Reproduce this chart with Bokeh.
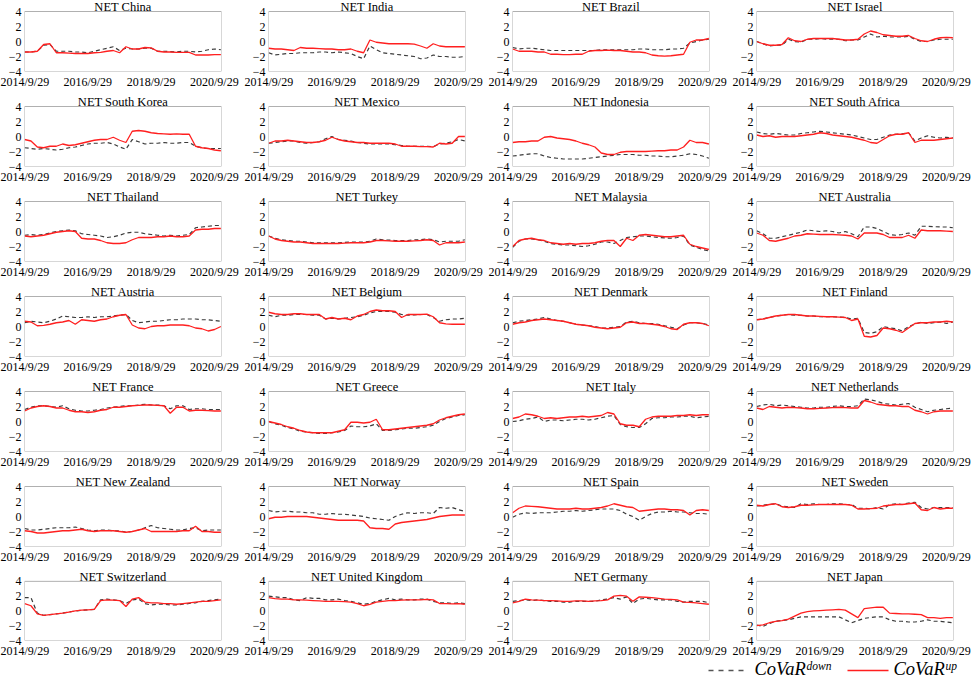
from bokeh.plotting import figure
from bokeh.layouts import gridplot, column
from bokeh.models import Range1d, FixedTicker, BoxAnnotation, Label
from bokeh.embed import file_html
from bokeh.resources import INLINE
from bokeh.core.properties import value

YEARS = [2014.75, 2014.95, 2015.15, 2015.35, 2015.55, 2015.75, 2015.95, 2016.15, 2016.35, 2016.55,
         2016.75, 2016.95, 2017.15, 2017.35, 2017.55, 2017.75, 2017.95, 2018.15, 2018.35, 2018.55,
         2018.75, 2018.95, 2019.15, 2019.35, 2019.55, 2019.75, 2019.95, 2020.15, 2020.35, 2020.55,
         2020.75, 2020.95]
TICK_YEARS = [2014.745, 2016.745, 2018.745, 2020.745]
TICK_LABELS = ["2014/9/29", "2016/9/29", "2018/9/29", "2020/9/29"]
Y_TICKS = [-4, -2, 0, 2, 4]

CHINA_UP = [-1.4,-1.4,-1.3,-0.4,-0.3,-1.5,-1.5,-1.55,-1.6,-1.6, -1.6,-1.5,-1.45,-1.3,-1.2,-1.5,-0.7,-1.0,-1.0,-0.8, -0.85,-1.3,-1.4,-1.4,-1.45,-1.45,-1.45,-1.8,-1.8,-1.8, -1.75,-1.75]
CHINA_DOWN = [-1.4,-1.4,-1.3,-0.5,-0.4,-1.3,-1.3,-1.3,-1.4,-1.4, -1.5,-1.3,-1.1,-0.9,-0.7,-1.2,-0.9,-1.0,-1.0,-0.9, -0.9,-1.3,-1.3,-1.35,-1.4,-1.3,-1.3,-1.4,-1.3,-1.1, -1.0,-1.1]
INDIA_UP = [-0.9,-1.0,-1.0,-1.1,-1.2,-0.8,-0.9,-0.9,-0.95,-1.0, -1.0,-1.1,-1.1,-1.0,-1.3,-1.5,0.2,-0.1,-0.2,-0.3, -0.3,-0.3,-0.3,-0.35,-0.6,-0.9,-0.3,-0.6,-0.7,-0.7, -0.7,-0.7]
INDIA_DOWN = [-1.5,-1.8,-1.7,-1.6,-1.6,-1.5,-1.5,-1.5,-1.4,-1.4, -1.5,-1.4,-1.5,-1.6,-2.0,-2.3,-0.6,-1.1,-1.5,-1.6, -1.7,-1.8,-1.9,-2.0,-2.3,-2.2,-1.8,-2.0,-2.0,-2.1, -2.1,-2.0]
BRAZIL_UP = [-1.0,-1.3,-1.3,-1.3,-1.4,-1.4,-1.7,-1.7,-1.75,-1.75, -1.7,-1.7,-1.3,-1.2,-1.2,-1.15,-1.2,-1.2,-1.3,-1.4, -1.4,-1.5,-1.8,-1.9,-1.95,-1.9,-1.8,-1.7,-0.1,0.2, 0.2,0.4]
BRAZIL_DOWN = [-0.8,-1.0,-0.9,-0.9,-1.0,-1.1,-1.2,-1.2,-1.2,-1.2, -1.2,-1.2,-1.2,-1.2,-1.1,-1.1,-1.1,-1.1,-1.1,-1.1, -1.0,-1.0,-1.1,-1.1,-1.1,-1.0,-1.0,-0.9,-0.2,0.0, 0.2,0.3]
ISRAEL_UP = [0.0,-0.3,-0.5,-0.5,-0.4,0.5,0.1,0.0,0.3,0.4, 0.4,0.4,0.4,0.3,0.2,0.2,0.3,1.0,1.4,1.2, 0.9,0.8,0.7,0.7,0.8,0.4,0.1,0.0,0.3,0.5, 0.55,0.5]
ISRAEL_DOWN = [0.0,-0.3,-0.6,-0.5,-0.5,0.3,0.0,-0.1,0.3,0.3, 0.4,0.3,0.3,0.3,0.1,0.2,0.2,0.6,1.0,0.6, 0.7,0.6,0.6,0.6,0.7,0.3,0.0,0.0,0.2,0.3, 0.3,0.3]
KOREA_UP = [-0.4,-0.6,-1.4,-1.5,-1.3,-1.3,-1.0,-1.2,-1.1,-0.9, -0.7,-0.5,-0.4,-0.4,-0.1,-0.5,-0.8,0.7,0.8,0.7, 0.5,0.4,0.35,0.3,0.35,0.3,0.3,-1.3,-1.5,-1.6, -1.8,-1.9]
KOREA_DOWN = [-1.5,-1.6,-1.7,-1.6,-1.7,-1.8,-1.7,-1.5,-1.4,-1.2, -1.0,-0.9,-0.9,-0.8,-1.0,-1.4,-1.7,-0.4,-0.7,-1.0, -0.9,-0.9,-0.8,-0.9,-0.9,-0.8,-0.8,-1.3,-1.5,-1.6, -1.6,-1.6]
MEXICO_UP = [-0.9,-0.6,-0.6,-0.5,-0.6,-0.7,-0.8,-0.8,-0.7,-0.5, -0.1,-0.4,-0.6,-0.7,-0.8,-0.8,-0.9,-0.9,-0.9,-0.9, -1.0,-1.3,-1.3,-1.3,-1.35,-1.35,-1.4,-0.9,-1.0,-0.9, 0.0,0.0]
MEXICO_DOWN = [-0.9,-0.8,-0.7,-0.6,-0.6,-0.8,-0.9,-0.8,-0.7,-0.3, 0.0,-0.4,-0.5,-0.6,-0.8,-0.9,-1.0,-1.0,-1.0,-1.0, -1.1,-1.2,-1.3,-1.3,-1.3,-1.3,-1.35,-1.0,-0.9,-0.7, -0.4,-0.6]
INDONESIA_UP = [-0.8,-0.7,-0.7,-0.6,-0.6,-0.1,0.0,-0.2,-0.3,-0.4, -0.6,-0.9,-1.1,-1.4,-2.2,-2.4,-2.4,-2.1,-2.0,-2.0, -2.0,-2.0,-1.95,-1.9,-1.9,-1.8,-1.8,-1.4,-0.5,-0.8, -0.8,-1.0]
INDONESIA_DOWN = [-2.6,-2.5,-2.4,-2.3,-2.3,-2.6,-2.8,-2.9,-3.0,-3.0, -3.0,-3.0,-2.9,-2.8,-2.7,-2.6,-2.5,-2.4,-2.4,-2.4, -2.5,-2.5,-2.6,-2.6,-2.7,-2.7,-2.6,-2.5,-2.3,-2.4, -2.6,-2.9]
SAFRICA_UP = [0.2,0.0,0.1,-0.1,0.0,0.0,0.0,0.1,0.2,0.3, 0.5,0.4,0.2,0.1,0.0,-0.1,-0.3,-0.5,-0.8,-0.9, -0.4,0.1,0.3,0.3,0.5,-0.8,-0.5,-0.5,-0.5,-0.4, -0.3,-0.2]
SAFRICA_DOWN = [0.6,0.4,0.3,0.4,0.3,0.2,0.2,0.4,0.5,0.6, 0.7,0.6,0.5,0.4,0.3,0.2,0.0,-0.2,-0.4,-0.4, -0.1,0.2,0.3,0.35,0.5,-0.6,-0.2,0.1,-0.1,-0.2, -0.1,-0.2]
THAILAND_UP = [-0.6,-0.7,-0.6,-0.5,-0.3,-0.1,0.0,0.1,0.0,-0.9, -1.0,-1.0,-1.2,-1.5,-1.6,-1.6,-1.5,-1.1,-0.8,-0.8, -0.8,-0.7,-0.7,-0.6,-0.7,-0.7,-0.6,0.2,0.3,0.3, 0.4,0.4]
THAILAND_DOWN = [-0.5,-0.4,-0.5,-0.4,-0.2,0.0,0.1,0.2,0.1,-0.3, -0.4,-0.5,-0.6,-0.8,-0.7,-0.5,-0.2,-0.1,-0.1,-0.3, -0.4,-0.5,-0.6,-0.5,-0.6,-0.5,-0.4,0.5,0.6,0.7, 0.8,0.8]
TURKEY_UP = [-0.6,-1.0,-1.2,-1.3,-1.4,-1.4,-1.5,-1.6,-1.6,-1.6, -1.6,-1.6,-1.55,-1.5,-1.5,-1.5,-1.4,-1.2,-1.2,-1.25, -1.3,-1.3,-1.3,-1.25,-1.2,-1.1,-1.2,-1.8,-1.5,-1.5, -1.5,-1.4]
TURKEY_DOWN = [-0.6,-0.9,-1.1,-1.2,-1.3,-1.3,-1.4,-1.5,-1.5,-1.5, -1.5,-1.5,-1.45,-1.4,-1.4,-1.4,-1.3,-1.0,-1.1,-1.15, -1.2,-1.2,-1.2,-1.1,-1.1,-1.0,-1.1,-1.4,-1.3,-1.3, -1.3,-1.1]
MALAYSIA_UP = [-2.0,-1.2,-1.0,-0.9,-1.1,-1.2,-1.5,-1.6,-1.7,-1.6, -1.7,-1.6,-1.6,-1.5,-1.3,-1.2,-1.2,-2.0,-0.9,-1.2, -0.5,-0.4,-0.5,-0.6,-0.7,-0.7,-0.6,-0.5,-1.7,-2.0, -2.2,-2.4]
MALAYSIA_DOWN = [-2.1,-1.3,-1.0,-1.0,-1.1,-1.3,-1.6,-1.7,-1.8,-1.8, -1.9,-2.0,-1.9,-1.7,-1.4,-1.4,-1.6,-1.2,-0.8,-0.7, -0.6,-0.6,-0.7,-0.8,-0.85,-0.9,-0.8,-0.6,-1.8,-2.1, -2.4,-2.6]
AUSTRALIA_UP = [-0.2,-0.5,-1.2,-1.3,-1.1,-0.9,-0.6,-0.5,-0.3,-0.35, -0.4,-0.4,-0.4,-0.45,-0.5,-0.6,-1.0,-0.2,-0.2,-0.2, -0.4,-0.8,-0.8,-0.8,-0.5,-0.9,0.2,0.1,0.1,0.1, 0.05,0.0]
AUSTRALIA_DOWN = [0.1,-0.3,-0.9,-0.9,-0.7,-0.5,-0.3,-0.1,0.2,0.1, 0.0,0.1,0.0,-0.2,0.0,-0.3,-0.7,0.6,0.6,0.4, 0.0,-0.4,-0.5,-0.4,-0.2,-0.5,0.7,0.7,0.65,0.6, 0.6,0.5]
AUSTRIA_UP = [0.7,0.6,0.1,0.15,0.3,0.5,0.6,0.8,0.3,0.9, 0.8,0.7,0.9,1.0,1.3,1.5,1.6,0.2,-0.2,-0.3, 0.0,0.1,0.1,0.2,0.2,0.2,0.1,-0.2,-0.3,-0.6, -0.4,0.0]
AUSTRIA_DOWN = [0.5,0.7,0.6,0.5,0.7,1.0,1.4,1.3,1.2,1.2, 1.3,1.2,1.3,1.3,1.4,1.5,1.6,0.8,0.5,0.6, 0.7,0.7,0.8,0.9,0.9,1.0,1.0,1.0,0.9,0.9, 0.8,0.7]
BELGIUM_UP = [1.9,1.7,1.6,1.6,1.7,1.7,1.6,1.6,1.6,1.0, 1.2,1.0,1.1,0.9,1.4,1.6,2.0,2.2,2.1,2.1, 2.0,1.2,1.6,1.6,1.6,1.65,1.3,0.5,0.35,0.3, 0.3,0.3]
BELGIUM_DOWN = [1.5,1.3,1.5,1.5,1.6,1.6,1.6,1.5,1.5,1.0, 1.1,1.0,1.1,1.2,1.3,1.5,1.8,2.0,2.0,2.0, 1.9,1.6,1.5,1.55,1.6,1.6,1.2,0.7,0.9,1.0, 1.0,1.1]
DENMARK_UP = [0.3,0.5,0.6,0.8,0.9,1.0,0.9,0.8,0.7,0.5, 0.3,0.2,0.1,-0.1,-0.2,-0.3,-0.2,-0.1,0.5,0.6, 0.4,0.4,0.3,0.2,0.0,-0.3,-0.4,0.3,0.5,0.5, 0.4,0.1]
DENMARK_DOWN = [0.5,0.7,0.8,0.9,1.0,1.2,1.0,0.8,0.7,0.5, 0.3,0.2,0.1,0.0,-0.2,-0.2,-0.1,0.0,0.6,0.7, 0.5,0.4,0.4,0.3,0.1,-0.1,-0.3,0.2,0.5,0.5, 0.4,0.2]
FINLAND_UP = [0.9,1.0,1.2,1.4,1.5,1.6,1.6,1.5,1.4,1.4, 1.35,1.3,1.3,1.25,1.2,0.8,1.0,-1.3,-1.4,-1.2, -0.2,-0.3,-0.5,-0.8,-0.2,0.4,0.5,0.5,0.6,0.6, 0.7,0.6]
FINLAND_DOWN = [0.9,1.0,1.2,1.4,1.5,1.6,1.5,1.5,1.4,1.4, 1.3,1.3,1.3,1.25,1.2,1.0,1.1,-0.8,-0.9,-0.7, 0.0,-0.2,-0.3,-0.6,0.0,0.3,0.6,0.4,0.5,0.6, 0.4,0.6]
FRANCE_UP = [1.4,1.8,2.0,2.1,2.0,1.8,1.8,1.5,1.3,1.3, 1.2,1.3,1.5,1.6,1.9,1.9,2.0,2.1,2.15,2.2, 2.2,2.15,2.1,1.1,1.9,1.9,1.4,1.5,1.5,1.45, 1.4,1.4]
FRANCE_DOWN = [1.6,1.9,2.1,2.1,2.0,1.9,2.1,1.7,1.5,1.4, 1.4,1.5,1.6,1.8,1.9,2.0,2.1,2.1,2.2,2.3, 2.2,2.2,2.1,1.7,2.1,2.1,1.6,1.7,1.7,1.6, 1.6,1.6]
GREECE_UP = [0.0,-0.2,-0.4,-0.7,-0.9,-1.2,-1.4,-1.5,-1.5,-1.5, -1.5,-1.3,-1.1,-0.1,-0.1,-0.2,-0.1,0.3,-1.1,-1.1, -1.0,-0.9,-0.8,-0.7,-0.6,-0.5,-0.3,0.2,0.5,0.7, 0.9,1.0]
GREECE_DOWN = [0.0,-0.3,-0.5,-0.8,-1.0,-1.3,-1.4,-1.5,-1.6,-1.6, -1.5,-1.4,-1.2,-0.6,-0.7,-0.7,-0.6,-0.3,-1.2,-1.2, -1.1,-1.0,-0.9,-0.9,-0.8,-0.7,-0.5,0.0,0.4,0.6, 0.8,0.9]
ITALY_UP = [0.4,0.6,1.0,0.9,0.7,0.4,0.5,0.4,0.5,0.6, 0.6,0.7,0.6,0.7,0.8,1.2,1.0,-0.3,-0.5,-0.5, -0.7,0.3,0.6,0.7,0.7,0.7,0.8,0.8,0.9,0.8, 0.9,0.9]
ITALY_DOWN = [0.0,0.1,0.3,0.4,0.6,0.0,0.2,0.2,0.1,0.2, 0.3,0.3,0.2,0.3,0.5,0.7,0.8,-0.4,-0.7,-0.8, -0.8,-0.3,0.4,0.5,0.5,0.6,0.6,0.7,0.7,0.5, 0.6,0.7]
NETHERLANDS_UP = [1.8,1.6,2.0,1.9,1.8,1.9,1.85,1.8,1.7,1.7, 1.75,1.8,1.85,1.9,1.85,1.8,1.8,2.8,2.6,2.3, 2.2,2.1,2.1,2.0,2.0,1.5,1.3,1.0,1.3,1.4, 1.4,1.4]
NETHERLANDS_DOWN = [2.0,2.2,2.3,2.1,2.2,2.1,2.0,1.9,1.8,1.8, 1.9,1.9,2.0,2.1,2.0,2.0,2.1,3.0,2.9,2.7, 2.4,2.3,2.2,2.3,2.4,1.9,1.6,1.3,1.5,1.6, 1.7,1.8]
NZ_UP = [-1.9,-2.0,-2.2,-2.2,-2.1,-2.0,-1.9,-1.9,-1.8,-1.7, -1.9,-2.0,-1.9,-1.9,-1.9,-2.0,-2.1,-2.0,-1.8,-1.6, -2.0,-2.0,-2.0,-2.0,-2.0,-1.9,-1.9,-1.3,-2.0,-2.0, -2.1,-2.1]
NZ_DOWN = [-1.6,-1.8,-1.8,-1.7,-1.6,-1.5,-1.5,-1.5,-1.4,-1.6, -1.8,-1.9,-1.8,-1.8,-1.9,-1.9,-2.1,-2.0,-1.8,-1.5, -1.2,-1.5,-1.6,-1.7,-1.8,-1.8,-1.6,-1.5,-1.9,-1.8, -1.8,-1.8]
NORWAY_UP = [-0.3,-0.1,-0.1,0.0,0.0,0.0,0.0,-0.1,-0.2,-0.3, -0.4,-0.5,-0.5,-0.5,-0.5,-0.6,-1.5,-1.6,-1.6,-1.7, -1.0,-0.8,-0.7,-0.6,-0.5,-0.4,-0.2,0.0,0.1,0.2, 0.2,0.2]
NORWAY_DOWN = [0.8,0.6,0.7,0.7,0.6,0.6,0.5,0.5,0.3,0.3, 0.4,0.3,0.3,0.2,0.1,0.0,-0.2,-0.3,-0.4,-0.5, 0.0,0.3,0.5,0.4,0.5,0.5,0.4,1.2,1.1,1.2, 0.9,0.7]
SPAIN_UP = [0.5,1.1,1.4,1.35,1.3,1.2,1.1,1.0,1.0,1.0, 1.1,1.0,1.0,1.1,1.2,1.4,1.7,1.5,1.3,1.2, 0.7,0.8,0.9,1.0,1.0,0.9,0.9,0.8,0.2,0.8, 0.9,0.8]
SPAIN_DOWN = [-0.1,0.3,0.5,0.4,0.5,0.5,0.5,0.6,0.7,0.7, 0.8,0.7,0.8,0.9,1.0,1.0,1.0,0.8,0.3,0.0, -0.5,0.0,0.4,0.6,0.6,0.7,0.6,0.6,0.5,0.4, 0.4,0.3]
SWEDEN_UP = [1.5,1.4,1.6,1.7,1.3,1.2,1.3,1.5,1.5,1.55, 1.6,1.6,1.6,1.6,1.6,1.5,1.0,1.0,1.05,1.1, 1.4,1.5,1.6,1.6,1.7,1.8,0.9,0.8,1.2,1.0, 1.1,1.1]
SWEDEN_DOWN = [1.4,1.5,1.6,1.7,1.4,1.3,1.2,1.7,1.6,1.7, 1.6,1.6,1.7,1.7,1.6,1.6,1.1,1.1,1.0,1.2, 1.0,1.6,1.7,1.6,1.8,1.9,1.2,1.0,1.2,1.2, 1.2,1.2]
SWISS_UP = [1.0,0.7,-0.4,-0.6,-0.5,-0.4,-0.3,-0.15,0.0,0.1, 0.15,0.2,1.4,1.5,1.45,1.4,0.6,1.6,1.8,1.2, 1.1,1.1,1.0,1.0,0.9,1.0,1.1,1.2,1.3,1.3, 1.4,1.5]
SWISS_DOWN = [1.8,1.8,-0.3,-0.6,-0.5,-0.4,-0.3,-0.15,0.0,0.1, 0.15,0.2,1.5,1.6,1.5,1.4,1.0,1.5,1.6,1.0, 0.8,0.9,0.9,0.8,0.8,0.9,1.0,1.1,1.3,1.4, 1.5,1.6]
UK_UP = [1.8,1.65,1.6,1.6,1.5,1.5,1.45,1.4,1.35,1.3, 1.3,1.3,1.25,1.2,1.0,0.7,0.9,1.2,1.3,1.4, 1.4,1.45,1.5,1.5,1.5,1.55,1.5,1.0,1.0,0.95, 1.0,0.9]
UK_DOWN = [2.0,1.9,1.8,1.8,1.5,1.4,1.8,1.7,1.7,1.5, 1.5,1.6,1.4,1.3,1.1,0.9,1.0,1.3,1.5,1.7, 1.5,1.6,1.5,1.5,1.6,1.6,1.3,1.1,1.1,1.0, 1.1,1.0]
GERMANY_UP = [1.1,1.3,1.6,1.5,1.45,1.4,1.4,1.35,1.3,1.3, 1.35,1.35,1.3,1.35,1.4,1.5,2.0,2.1,2.0,1.3, 1.9,1.85,1.8,1.7,1.6,1.55,1.5,1.2,1.15,1.1, 1.0,0.9]
GERMANY_DOWN = [1.3,1.4,1.5,1.4,1.5,1.4,1.3,1.3,1.2,1.2, 1.3,1.3,1.3,1.3,1.5,1.6,1.8,1.6,1.9,1.0, 1.6,1.7,1.6,1.5,1.5,1.5,1.3,1.2,1.3,1.3, 1.3,1.1]
JAPAN_UP = [-2.0,-1.9,-1.6,-1.4,-1.3,-1.1,-0.7,-0.3,-0.1,0.0, 0.05,0.1,0.15,0.2,0.1,-0.4,-0.9,0.3,0.4,0.5, 0.5,-0.3,-0.35,-0.4,-0.4,-0.45,-0.5,-0.9,-0.9,-1.0, -0.9,-0.9]
JAPAN_DOWN = [-1.9,-2.1,-1.7,-1.4,-1.3,-1.2,-1.0,-0.8,-0.8,-0.8, -0.8,-0.8,-0.8,-0.8,-1.2,-1.6,-1.3,-1.0,-0.9,-0.8, -0.8,-1.2,-1.4,-1.4,-1.5,-1.5,-1.4,-1.2,-1.4,-1.4, -1.5,-1.6]

PANELS = [
    ("China", CHINA_DOWN, CHINA_UP), ("India", INDIA_DOWN, INDIA_UP),
    ("Brazil", BRAZIL_DOWN, BRAZIL_UP), ("Israel", ISRAEL_DOWN, ISRAEL_UP),
    ("South Korea", KOREA_DOWN, KOREA_UP), ("Mexico", MEXICO_DOWN, MEXICO_UP),
    ("Indonesia", INDONESIA_DOWN, INDONESIA_UP), ("South Africa", SAFRICA_DOWN, SAFRICA_UP),
    ("Thailand", THAILAND_DOWN, THAILAND_UP), ("Turkey", TURKEY_DOWN, TURKEY_UP),
    ("Malaysia", MALAYSIA_DOWN, MALAYSIA_UP), ("Australia", AUSTRALIA_DOWN, AUSTRALIA_UP),
    ("Austria", AUSTRIA_DOWN, AUSTRIA_UP), ("Belgium", BELGIUM_DOWN, BELGIUM_UP),
    ("Denmark", DENMARK_DOWN, DENMARK_UP), ("Finland", FINLAND_DOWN, FINLAND_UP),
    ("France", FRANCE_DOWN, FRANCE_UP), ("Greece", GREECE_DOWN, GREECE_UP),
    ("Italy", ITALY_DOWN, ITALY_UP), ("Netherlands", NETHERLANDS_DOWN, NETHERLANDS_UP),
    ("New Zealand", NZ_DOWN, NZ_UP), ("Norway", NORWAY_DOWN, NORWAY_UP),
    ("Spain", SPAIN_DOWN, SPAIN_UP), ("Sweden", SWEDEN_DOWN, SWEDEN_UP),
    ("Switzerland", SWISS_DOWN, SWISS_UP), ("United Kingdom", UK_DOWN, UK_UP),
    ("Germany", GERMANY_DOWN, GERMANY_UP), ("Japan", JAPAN_DOWN, JAPAN_UP),
]

FONT = "Liberation Serif"
RED = "#ff1f1f"
DARK = "#3a3a3a"
PW = 244             # panel width
FW = 197             # plot-box width
LEFT = 24
TOP_PAD = 11         # px above the +4 line, reserved for the panel title
BOX_H = 60           # px between +4 and -4
X0, X1 = 2014.745, 2020.97
Y0, Y1 = -4, 4
PX_PER_UNIT = BOX_H / (Y1 - Y0)
Y_TOP = Y1 + TOP_PAD / PX_PER_UNIT

for name, d, u in PANELS:
    assert len(d) == len(YEARS) and len(u) == len(YEARS), name


def make_panel(name, down, up, ph):
    p = figure(width=PW, height=ph, output_backend="svg", toolbar_location=None,
               x_range=Range1d(X0, X1), y_range=Range1d(Y0, Y_TOP),
               min_border_left=LEFT, min_border_right=PW - LEFT - FW,
               min_border_top=0, min_border_bottom=ph - TOP_PAD - BOX_H)
    p.background_fill_color = "white"
    p.border_fill_color = "white"
    p.outline_line_color = None
    p.grid.visible = False
    for ax in (p.xaxis[0], p.yaxis[0]):
        ax.axis_line_color = None
        ax.major_tick_line_color = None
        ax.minor_tick_line_color = None
        ax.major_label_text_font = FONT
        ax.major_label_text_font_size = "12px"
        ax.major_label_text_color = "black"
        ax.major_tick_out = 0
        ax.major_tick_in = 0
    p.xaxis[0].ticker = FixedTicker(ticks=TICK_YEARS)
    p.xaxis[0].major_label_overrides = dict(zip(TICK_YEARS, TICK_LABELS))
    p.xaxis[0].major_label_standoff = 3
    p.yaxis[0].ticker = FixedTicker(ticks=Y_TICKS)
    p.yaxis[0].major_label_standoff = 3
    p.add_layout(BoxAnnotation(left=X0, right=X1, bottom=Y0, top=Y1,
                               fill_color=None, fill_alpha=0,
                               line_color="#b0b0b0", line_width=1, line_alpha=1))
    p.line(YEARS, down, line_color=DARK, line_width=1.2, line_dash="4 3")
    p.line(YEARS, up, line_color=RED, line_width=1.3)
    p.add_layout(Label(x=(X0 + X1) / 2, y=Y1 - 2.4 / PX_PER_UNIT, text="NET " + name,
                       text_align="center", text_baseline="bottom",
                       text_font=FONT, text_font_size="12.5px", text_color="black"))
    return p


figs = []
for i, (n, d, u) in enumerate(PANELS):
    ph = 90 if i >= 24 else 95
    figs.append(make_panel(n, d, u, ph))
grid = gridplot(figs, ncols=4, toolbar_location=None)

LEG_H = 19
leg = figure(width=976, height=LEG_H, output_backend="svg", toolbar_location=None,
             x_range=Range1d(0, 976), y_range=Range1d(0, LEG_H),
             x_axis_location=None, y_axis_location=None, min_border=0)
leg.outline_line_color = None
leg.grid.visible = False
leg.line([708, 745], [9, 9], line_color="#555555", line_width=1.3, line_dash="5 5")
leg.line([847, 888], [9, 9], line_color=RED, line_width=1.5)
leg.text([754, 893], [0.3, 0.3], text=["CoVaR", "CoVaR"], text_font=value(FONT),
         text_font_style="italic", text_font_size="18.5px", text_baseline="bottom",
         text_color="black")
leg.text([806, 945], [7.5, 7.5], text=["down", "up"], text_font=value(FONT),
         text_font_style="italic", text_font_size="11.5px", text_baseline="bottom",
         text_color="black")

layout = column(grid, leg)
open("out.html", "w").write(file_html(layout, INLINE))
